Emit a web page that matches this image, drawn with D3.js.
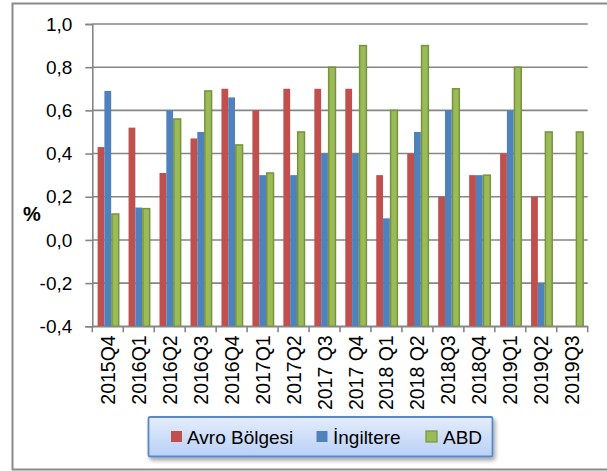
<!DOCTYPE html>
<html>
<head>
<meta charset="utf-8">
<script src="https://cdn.jsdelivr.net/npm/d3@7"></script>
<style>
  html, body { margin: 0; padding: 0; background: #fff; }
  svg { display: block; font-family: "Liberation Sans", Arial, sans-serif; }
</style>
</head>
<body>
<div id="chart"></div>
<script>
// Données du graphique
const categories = ["2015Q4", "2016Q1", "2016Q2", "2016Q3", "2016Q4", "2017Q1", "2017Q2", "2017 Q3",
    "2017 Q4", "2018 Q1", "2018 Q2", "2018Q3", "2018Q4", "2019Q1", "2019Q2", "2019Q3"];
const seriesNames = ["Avro Bölgesi", "İngiltere", "ABD"];
const avroValues = [0.43, 0.52, 0.31, 0.47, 0.70, 0.60, 0.70, 0.70, 0.70, 0.30, 0.40, 0.20, 0.30, 0.40, 0.20, null];
const ingiltereValues = [0.69, 0.15, 0.60, 0.50, 0.66, 0.30, 0.30, 0.40, 0.40, 0.10, 0.50, 0.60, 0.30, 0.60, -0.20, null];
const abdValues = [0.12, 0.145, 0.56, 0.69, 0.44, 0.31, 0.50, 0.80, 0.90, 0.60, 0.90, 0.70, 0.30, 0.80, 0.50, 0.50];
const yTicks = [-0.4, -0.2, 0.0, 0.2, 0.4, 0.6, 0.8, 1.0];

const colors = ["#C0504D", "#4F81BD", "#9BBB59"];
const strokes = [null, null, "#77933C"];

const W = 607, H = 471;
const svg = d3.select("#chart").append("svg").attr("width", W).attr("height", H);

const defs = svg.append("defs");
const grad = defs.append("linearGradient").attr("id", "legend-grad")
    .attr("x1", "0%").attr("x2", "0%").attr("y1", "0%").attr("y2", "100%");
grad.append("stop").attr("offset", "0%").attr("stop-color", "#e4edfc");
grad.append("stop").attr("offset", "100%").attr("stop-color", "#b9d0f6");
const shadow = defs.append("filter").attr("id", "shadow")
    .attr("x", "-10%").attr("y", "-30%").attr("width", "130%").attr("height", "180%");
shadow.append("feDropShadow").attr("dx", 2).attr("dy", 3).attr("stdDeviation", 2)
    .attr("flood-color", "#000").attr("flood-opacity", 0.35);

// Cadre extérieur (coupé à droite)
svg.append("rect")
    .attr("x", 12.5).attr("y", 3.5).attr("width", 640).attr("height", 466)
    .attr("fill", "none").attr("stroke", "#8a8a8a").attr("stroke-width", 2);

// Échelles
const x = d3.scaleBand().domain(categories).range([92.3, 587.7]).padding(0);
const xs = d3.scaleBand().domain(seriesNames).range([0, x.bandwidth()]).paddingOuter(0.78).paddingInner(0);
const y = d3.scaleLinear().domain([-0.4, 1.0]).range([326.3, 24]);

const locale = d3.formatLocale({ decimal: ",", thousands: ".", grouping: [3], currency: ["", ""], minus: "-" });
const fmt = locale.format(".1f");

// Grille horizontale
svg.append("g").selectAll("line")
    .data(yTicks)
    .join("line")
    .attr("x1", 92.3).attr("x2", 587.7)
    .attr("y1", d => y(d)).attr("y2", d => y(d))
    .attr("stroke", "#868686").attr("stroke-width", 1.6);

// Barres (partent du bas de l'axe, -0,4)
const series = [avroValues, ingiltereValues, abdValues];
series.forEach((vals, si) => {
    svg.append("g").selectAll("rect")
        .data(categories.map((c, i) => ({ c, v: vals[i] })).filter(d => d.v !== null))
        .join("rect")
        .attr("x", d => x(d.c) + xs(seriesNames[si]) + (strokes[si] ? 0.75 : 0))
        .attr("width", xs.bandwidth())
        .attr("y", d => y(d.v))
        .attr("height", d => y(-0.4) - y(d.v))
        .attr("fill", colors[si])
        .attr("stroke", strokes[si] || "none")
        .attr("stroke-width", 1.5);
});

// Axe Y
const yAxis = svg.append("g")
    .attr("transform", "translate(92.3,0)")
    .call(d3.axisLeft(y).tickValues(yTicks).tickFormat(fmt).tickSize(7).tickPadding(13));
yAxis.select(".domain").attr("stroke", "#868686").attr("stroke-width", 1.6);
yAxis.selectAll(".tick line").attr("stroke", "#868686").attr("stroke-width", 1.6);
yAxis.selectAll("text").attr("font-size", "19px").attr("fill", "#000");

// Axe X
const xAxis = svg.append("g")
    .attr("transform", `translate(0,${y(-0.4)})`)
    .call(d3.axisBottom(x).tickSize(0).tickSizeOuter(0));
xAxis.select(".domain").attr("stroke", "#868686").attr("stroke-width", 1.6);
xAxis.selectAll("text")
    .attr("font-size", "19.5px").attr("fill", "#000")
    .attr("text-anchor", "end")
    .attr("transform", "rotate(-90)")
    .attr("x", -9).attr("y", 0).attr("dy", "0.36em");

// Graduations aux limites des catégories
const edges = categories.map(c => x(c)).concat([x.range()[1]]);
svg.append("g").selectAll("line")
    .data(edges)
    .join("line")
    .attr("x1", d => d).attr("x2", d => d)
    .attr("y1", y(-0.4)).attr("y2", y(-0.4) + 6)
    .attr("stroke", "#868686").attr("stroke-width", 1.6);

// Titre de l'axe Y
svg.append("text")
    .attr("x", 32).attr("y", 214)
    .attr("dy", "0.35em")
    .attr("text-anchor", "middle")
    .attr("font-size", "20px").attr("font-weight", "bold")
    .text("%");

// Légende
const legend = svg.append("g");
legend.append("rect")
    .attr("x", 148.5).attr("y", 417).attr("width", 344).attr("height", 39.5)
    .attr("rx", 1.5)
    .attr("fill", "url(#legend-grad)")
    .attr("stroke", "#5a88c6").attr("stroke-width", 1.8)
    .attr("filter", "url(#shadow)");

const legendItems = [
    { name: seriesNames[0], sx: 171, tx: 187 },
    { name: seriesNames[1], sx: 316.5, tx: 333 },
    { name: seriesNames[2], sx: 426, tx: 443 }
];
legendItems.forEach((d, i) => {
    legend.append("rect")
        .attr("x", d.sx).attr("y", 431).attr("width", 11).attr("height", 11)
        .attr("fill", colors[i])
        .attr("stroke", strokes[i] || "none").attr("stroke-width", 1.2);
    legend.append("text")
        .attr("x", d.tx).attr("y", 437)
        .attr("dy", "0.35em")
        .attr("font-size", "19px").attr("fill", "#000")
        .text(d.name);
});
</script>
</body>
</html>
